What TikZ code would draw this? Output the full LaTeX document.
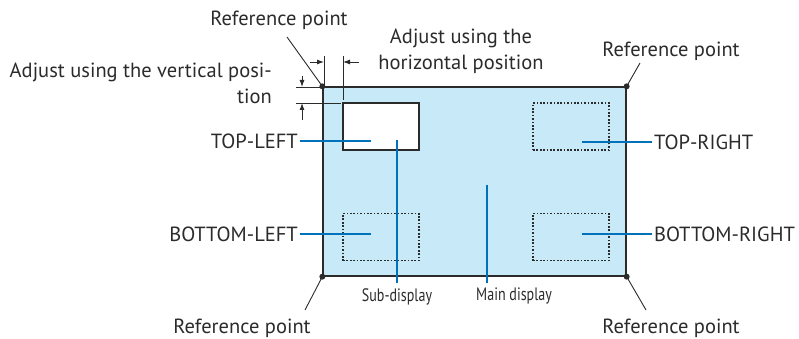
\documentclass[tikz,border=0pt]{standalone}
\usepackage{fontspec}
\setmainfont{PT Sans}
\newfontfamily\condfont[FakeStretch=0.78]{PT Sans}
\usetikzlibrary{arrows.meta, positioning}
\definecolor{panelblue}{HTML}{C8E9F8}
\definecolor{leadblue}{HTML}{0072BC}
\definecolor{inkgray}{HTML}{2B2B2B}

\begin{document}
\begin{tikzpicture}[x=1pt, y=-1pt,
  lbl/.style={font=\fontsize{20.5}{26}\selectfont, text=inkgray, inner sep=2pt},
  small/.style={font=\condfont\fontsize{18}{21}\selectfont, text=inkgray, inner sep=1pt},
  panel/.style={draw=inkgray, line width=1.3pt, fill=panelblue, inner sep=0pt,
                minimum width=303pt, minimum height=189pt},
  subbox/.style={draw=inkgray, line width=1.2pt, inner sep=0pt,
                 minimum width=76pt, minimum height=47pt},
  ghost/.style={subbox, line width=1.1pt, dash pattern=on 1.7pt off 1.7pt},
  blueln/.style={draw=leadblue, line width=2.9pt},
  thin/.style={draw=inkgray, line width=0.9pt},
  dim/.style={thin, -{Latex[length=7pt, width=5pt]}},
  refdot/.style={circle, fill=inkgray, inner sep=0pt, minimum size=6pt}
]
  \useasboundingbox (0,0) rectangle (799,339);

  % screen and sub-display positions
  \node[panel] (main) at (474.5,181.5) {};
  \node[subbox, fill=white] (subtl) at (381,126.5) {};
  \node[ghost] (subtr) at (571,126.5) {};
  \node[ghost] (subbl) at (381,237) {};
  \node[ghost] (subbr) at (571,237) {};

  % reference points
  \node[refdot] (rptl) at (main.north west) {};
  \node[refdot] (rptr) at (main.north east) {};
  \node[refdot] (rpbl) at (main.south west) {};
  \node[refdot] (rpbr) at (main.south east) {};

  \node[lbl] (reftl) at (279,20) {Reference point};
  \node[lbl] (reftr) at (671,51) {Reference point};
  \node[lbl] (refbl) at (242,328) {Reference point};
  \node[lbl] (refbr) at (671,328) {Reference point};
  \coordinate (ktl) at (287,37);
  \coordinate (ktr) at (640,63);
  \coordinate (kbl) at (305,310);
  \coordinate (kbr) at (646,310);
  \draw[thin] (ktl) -- (rptl.center);
  \draw[thin] (ktr) -- (rptr.center);
  \draw[thin] (kbl) -- (rpbl.center);
  \draw[thin] (kbr) -- (rpbr.center);

  % corner labels
  \node[lbl, anchor=east] (toplft) at (300,141) {TOP-LEFT};
  \node[lbl, anchor=east] (botlft) at (300,234) {BOTTOM-LEFT};
  \node[lbl, anchor=west] (toprgt) at (652,142) {TOP-RIGHT};
  \node[lbl, anchor=west] (botrgt) at (652,234) {BOTTOM-RIGHT};
  \coordinate (etl) at (371,141);
  \coordinate (ebl) at (371,234);
  \coordinate (etr) at (582,142);
  \coordinate (ebr) at (582,234);
  \draw[blueln] (toplft.east) -- (etl);
  \draw[blueln] (botlft.east) -- (ebl);
  \draw[blueln] (etr) -- (toprgt.west);
  \draw[blueln] (ebr) -- (botrgt.west);

  % display names
  \node[small, anchor=north] (subname) at (397,287) {Sub-display};
  \node[small, anchor=north west] (mainname) at (475,287) {Main display};
  \coordinate (ssub) at (397,140);
  \coordinate (smain) at (487,185);
  \draw[blueln] (ssub) -- (397,283);
  \draw[blueln] (smain) -- (487,283);

  % horizontal offset
  \coordinate (hx1) at (324,56);
  \coordinate (hx2) at (343,56);
  \draw[thin] (hx1) -- (324,87);
  \draw[thin] (hx2) -- (343,100);
  \draw[dim] (310,62) -- (324,62);
  \draw[dim] (359,62) -- (343,62);
  \node[lbl, align=center] (hadj) at (461,51)
    {Adjust using the\\horizontal position};

  % vertical offset
  \coordinate (vy1) at (296,87);
  \coordinate (vy2) at (296,103);
  \draw[thin] (vy1) -- (324,87);
  \draw[thin] (vy2) -- (341,103);
  \draw[dim] (302,76) -- (302,87);
  \draw[dim] (302,120) -- (302,103);
  \node[lbl, align=right, anchor=east] (vadj) at (274,83)
    {Adjust using the vertical posi-\\tion};
\end{tikzpicture}
\end{document}
